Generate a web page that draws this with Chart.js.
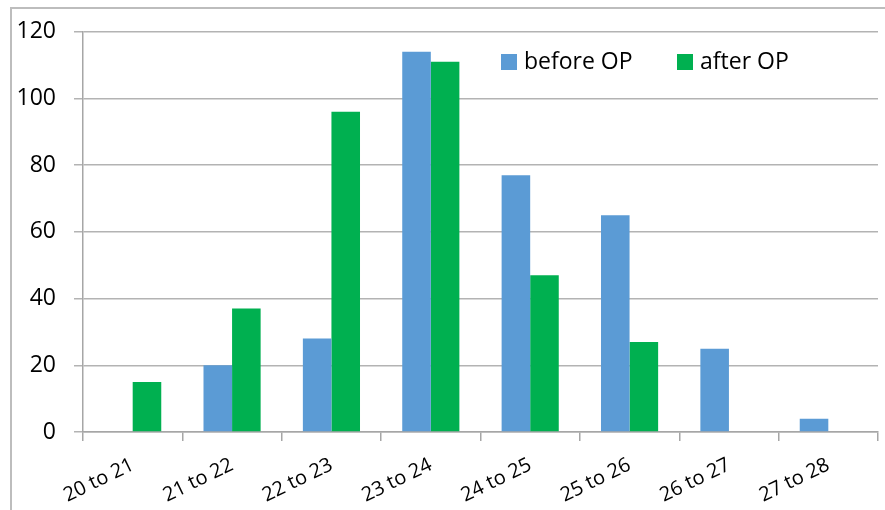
<!DOCTYPE html>
<html>
<head>
<meta charset="utf-8">
<script src="https://cdn.jsdelivr.net/npm/chart.js@4/dist/chart.umd.min.js"></script>
<style>
    html, body { margin: 0; padding: 0; background: #fff; overflow: hidden; }
    #box { position: relative; width: 885px; height: 510px; }
    #cornice { position: absolute; left: 10px; top: 7px; width: 900px; height: 600px;
        border-left: 2px solid #bdbdbd; border-top: 2px solid #bdbdbd; }
    #myChart { position: absolute; left: 0; top: 0; }
</style>
</head>
<body>
<div id="box">
    <div id="cornice"></div>
    <canvas id="myChart" width="885" height="510"></canvas>
</div>
<script>
"use strict"

// dati
const categorie = ["20 to 21", "21 to 22", "22 to 23", "23 to 24", "24 to 25", "25 to 26", "26 to 27", "27 to 28"];
const primaOP = [0, 20, 28, 114, 77, 65, 25, 4];
const dopoOP = [15, 37, 96, 111, 47, 27, 0, 0];
const tickY = [0, 20, 40, 60, 80, 100, 120];

const font = "'Open Sans', sans-serif";

// legenda disegnata a mano dentro al grafico
const legenda = {
    id: "legenda",
    afterDraw(chart) {
        const ctx = chart.ctx;
        ctx.save();
        ctx.font = "23px " + font;
        ctx.textBaseline = "middle";
        let x = 501;
        const y = 62;
        chart.data.datasets.forEach(function (ds) {
            ctx.fillStyle = ds.backgroundColor;
            ctx.fillRect(x, y - 8, 16, 16);
            ctx.fillStyle = "#000";
            ctx.fillText(ds.label, x + 23, y);
            x = 677;
        });
        ctx.restore();
    }
};

new Chart(document.getElementById("myChart"), {
    type: "bar",
    data: {
        labels: categorie,
        datasets: [{
            label: "before OP",
            data: primaOP,
            backgroundColor: "#5B9BD5"
        },
        {
            label: "after OP",
            data: dopoOP,
            backgroundColor: "#00B050"
        }]
    },
    options: {
        responsive: false,
        animation: false,
        layout: { padding: { top: 18, right: 7, left: 0, bottom: 0 } },
        plugins: {
            legend: { display: false },
            tooltip: { enabled: false }
        },
        datasets: {
            bar: { categoryPercentage: 0.575, barPercentage: 1 }
        },
        scales: {
            x: {
                grid: {
                    display: true,
                    drawOnChartArea: false,
                    offset: true,
                    color: "#a6a6a6",
                    lineWidth: 1.5,
                    tickLength: 9
                },
                border: { color: "#a6a6a6", width: 1.5 },
                ticks: {
                    color: "#000",
                    font: { family: font, size: 20 },
                    minRotation: 26,
                    maxRotation: 26,
                    padding: 12
                },
                afterFit(scale) { scale.height = 78; }
            },
            y: {
                min: 0,
                max: 120,
                afterBuildTicks(scale) {
                    scale.ticks = tickY.map(function (v) { return { value: v }; });
                },
                grid: { color: "#b3b3b3", lineWidth: 1.5, tickLength: 9 },
                border: { color: "#a6a6a6", width: 1.5 },
                ticks: {
                    color: "#000",
                    font: { family: font, size: 23 },
                    padding: 18
                },
                afterFit(scale) { scale.width = 83; }
            }
        }
    },
    plugins: [legenda]
});
</script>
</body>
</html>
